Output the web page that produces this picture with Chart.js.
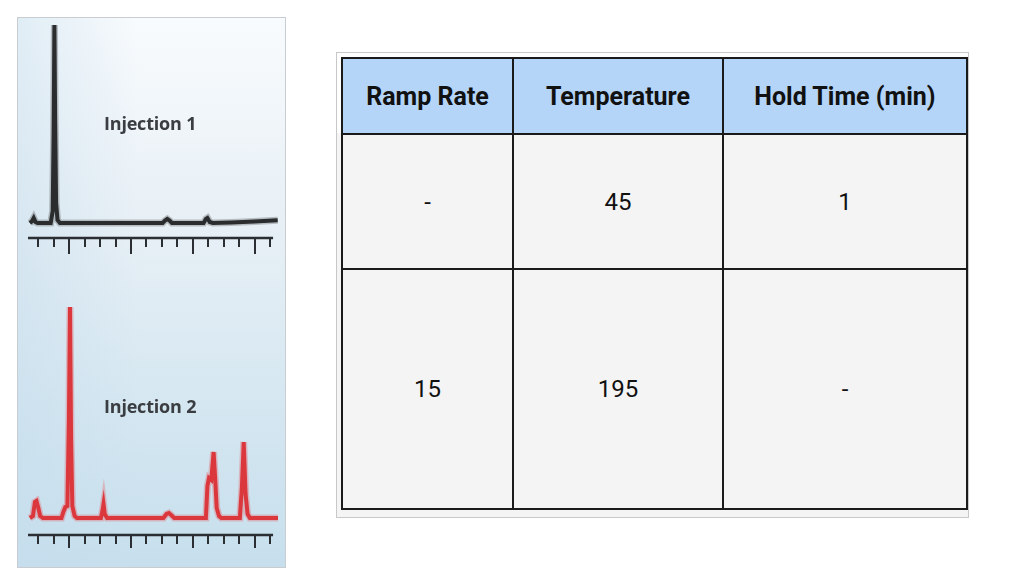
<!DOCTYPE html>
<html lang="en">
<head>
  <meta charset="UTF-8">
  <title>Injections and oven program</title>
  <script src="https://cdn.jsdelivr.net/npm/chart.js"></script>
  <style>
    body { margin: 0; background: #fff; width: 1010px; height: 585px; position: relative; overflow: hidden; }
    #panel {
      position: absolute; left: 17px; top: 17px; width: 267px; height: 549px;
      border: 1px solid #c9ccd0;
      background:
        linear-gradient(to right, rgba(196,220,236,0.45), rgba(255,255,255,0) 45%),
        linear-gradient(to bottom, #f8fbfd 0%, #e6eff5 40%, #d5e7f1 70%, #c7dfed 100%);
    }
    #panel canvas { position: absolute; left: 0; }
    .label {
      position: absolute; left: 86px; font-family: "Open Sans", sans-serif;
      font-weight: 700; font-size: 18px; line-height: 18px; color: #3a3d41; white-space: nowrap;
      letter-spacing: -0.2px;
    }
    #tableBox {
      position: absolute; left: 336px; top: 52px; width: 631px; height: 464px;
      border: 1px solid #c8c8c8; overflow: hidden;
      background: linear-gradient(to bottom, #fff 0, #fff 80px, #f4f4f4 80px);
    }
    table {
      position: absolute; left: 4px; top: 4px; border-collapse: collapse; table-layout: fixed;
      font-family: Roboto, sans-serif; font-size: 24px; color: #111;
    }
    th, td { border: 2px solid #1a1a1a; text-align: center; padding: 0; }
    th { background: #b4d5f8; font-weight: bold; font-size: 25px; height: 74px; }
    td { background: #f4f4f4; }
  </style>
</head>
<body>
  <div id="panel">
    <canvas id="inj1" width="267" height="268" style="top:0"></canvas>
    <canvas id="inj2" width="267" height="281" style="top:268px"></canvas>
    <div class="label" style="top:96px">Injection 1</div>
    <div class="label" style="top:379px">Injection 2</div>
  </div>

  <div id="tableBox">
    <table id="program">
      <colgroup><col style="width:171px"><col style="width:210px"><col style="width:244px"></colgroup>
      <thead><tr></tr></thead>
      <tbody></tbody>
    </table>
  </div>

  <script>
    // time axis ticks (arbitrary minutes), every 4th tick is long
    const tickValues = [0, 1, 2, 3, 4, 5, 6, 7, 8, 9, 10, 11, 12, 13, 14, 15];
    const longTicks = [2, 6, 10, 14];
    const axisStart = -0.67;
    const axisEnd = 15.2;

    // Injection 1 trace
    const inj1Time = [-0.55, -0.42, -0.3, -0.18, -0.05, 0.8, 0.93, 0.99, 1.04, 1.09, 1.15, 1.24, 1.4,
                      8.05, 8.2, 8.35, 8.5, 8.65, 10.7, 10.85, 10.95, 11.1, 11.3, 12.5, 14.0, 15.5];
    const inj1Signal = [0, 0.08, 0.25, 0.05, 0, 0, 0.6, 4.5, 9.9, 5.0, 1.0, 0.15, 0,
                        0, 0.12, 0.2, 0.12, 0, 0, 0.2, 0.25, 0.05, 0, 0.03, 0.08, 0.14];

    // Injection 2 trace
    const inj2Time = [-0.55, -0.35, -0.22, -0.12, 0.0, 0.12, 0.3, 1.5, 1.62, 1.75, 1.88, 1.98, 2.05, 2.12, 2.2, 2.35, 2.5,
                      4.05, 4.15, 4.22, 4.3, 4.45, 8.1, 8.3, 8.45, 8.6, 8.8,
                      10.85, 10.95, 11.05, 11.2, 11.35, 11.45, 11.55, 11.7, 11.85,
                      13.05, 13.18, 13.3, 13.42, 13.55, 13.7, 15.52];
    const inj2Signal = [0, 0.1, 0.8, 0.85, 0.5, 0.1, 0, 0, 0.3, 0.55, 0.6, 5, 10.55, 4, 0.6, 0.1, 0,
                        0, 0.35, 0.7, 0.2, 0, 0, 0.2, 0.25, 0.15, 0,
                        0, 1.6, 2.0, 1.9, 3.3, 2.0, 0.5, 0.1, 0,
                        0, 1.5, 3.8, 1.2, 0.2, 0, 0];

    // oven program table
    const headers = ["Ramp Rate", "Temperature", "Hold Time (min)"];
    const rampRate = ["-", "15"];
    const temperature = ["45", "195"];
    const holdTime = ["1", "-"];
    const rowHeights = [133, 238];

    const tickAxis = {
      id: 'tickAxis',
      afterDatasetsDraw(chart, args, opts) {
        const { ctx, scales: { x, y } } = chart;
        const yPix = Math.round(y.getPixelForValue(opts.axisAt));
        ctx.save();
        ctx.strokeStyle = '#2b2f33';
        ctx.lineWidth = 2.5;
        ctx.beginPath();
        ctx.moveTo(x.getPixelForValue(axisStart), yPix);
        ctx.lineTo(x.getPixelForValue(axisEnd), yPix);
        ctx.stroke();
        ctx.lineWidth = 2;
        ctx.beginPath();
        tickValues.forEach(v => {
          const px = Math.round(x.getPixelForValue(v));
          const len = longTicks.includes(v) ? opts.longLen : opts.shortLen;
          ctx.moveTo(px, yPix);
          ctx.lineTo(px, yPix + len);
        });
        ctx.stroke();
        ctx.restore();
      }
    };

    function trace(id, time, signal, color, halo, yMin, yMax, pad, axisAt, longLen) {
      const pts = time.map((t, i) => ({ x: t, y: signal[i] }));
      new Chart(document.getElementById(id), {
        type: 'line',
        data: {
          datasets: [
            { data: pts, borderColor: halo, borderWidth: 7, pointRadius: 0, tension: 0 },
            { data: pts, borderColor: color, borderWidth: 4, pointRadius: 0, tension: 0 }
          ]
        },
        options: {
          responsive: false,
          animation: false,
          layout: { padding: pad },
          plugins: {
            legend: { display: false },
            tooltip: { enabled: false },
            tickAxis: { axisAt: axisAt, shortLen: 9, longLen: longLen }
          },
          scales: {
            x: { type: 'linear', display: false, min: -0.67, max: 15.52 },
            y: { display: false, min: yMin, max: yMax }
          }
        },
        plugins: [tickAxis]
      });
    }

    trace('inj1', inj1Time, inj1Signal, '#1f2123', 'rgba(70,70,70,0.3)', -1.65, 10.15,
      { left: 10, right: 7, top: 2, bottom: 30 }, -0.75, 16);
    trace('inj2', inj2Time, inj2Signal, '#d62429', 'rgba(230,95,100,0.35)', -1.6, 10.9,
      { left: 10, right: 7, top: 14, bottom: 17 }, -0.85, 13);

    const headRow = document.querySelector('#program thead tr');
    headers.forEach(h => {
      const th = document.createElement('th');
      th.textContent = h;
      headRow.appendChild(th);
    });
    const tbody = document.querySelector('#program tbody');
    rampRate.forEach((r, i) => {
      const tr = document.createElement('tr');
      tr.innerHTML = `<td style="height:${rowHeights[i]}px">${r}</td><td>${temperature[i]}</td><td>${holdTime[i]}</td>`;
      tbody.appendChild(tr);
    });
  </script>
</body>
</html>
